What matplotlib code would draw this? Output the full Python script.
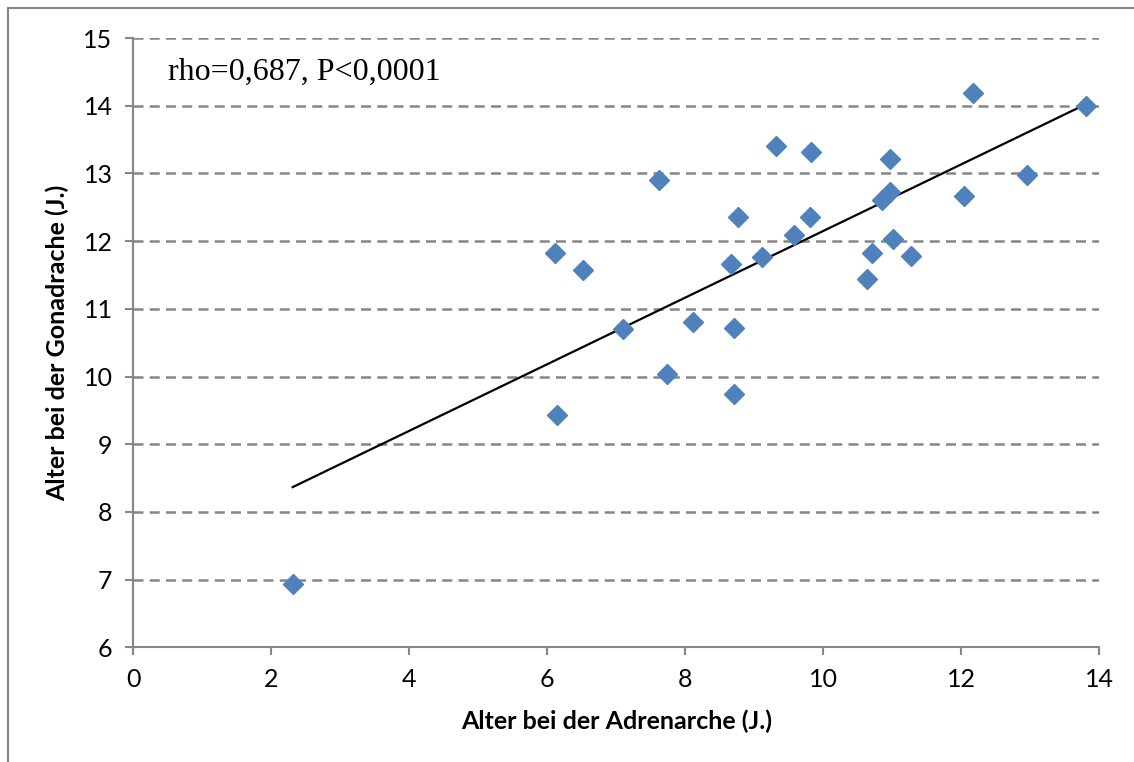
import matplotlib
matplotlib.use("Agg")
import matplotlib.pyplot as plt
from matplotlib.lines import Line2D
import numpy as np

# Alter bei der Adrenarche (x) und Gonadarche (y)
adrenarche = [2.31, 6.11, 6.14, 6.52, 7.10, 7.62, 7.73, 8.12, 8.66, 8.71,
              8.71, 8.76, 9.11, 9.32, 9.58, 9.81, 9.82, 10.64, 10.71, 10.85,
              10.97, 10.97, 11.01, 11.28, 12.04, 12.17, 12.96, 13.81]
gonadarche = [6.94, 11.82, 9.43, 11.58, 10.70, 12.91, 10.04, 10.80, 11.66, 10.71,
              9.74, 12.35, 11.77, 13.40, 12.09, 12.35, 13.32, 11.44, 11.82, 12.61,
              12.73, 13.22, 12.03, 11.78, 12.67, 14.19, 12.98, 14.00]

x_ticks = [0, 2, 4, 6, 8, 10, 12, 14]
y_ticks = [6, 7, 8, 9, 10, 11, 12, 13, 14, 15]
annotation = "rho=0,687, P<0,0001"

grey = "#868686"
blue = "#4F81BD"

fig = plt.figure(figsize=(11.34, 7.62), dpi=100)
ax = fig.add_axes([0.1176, 0.1505, 0.8515, 0.7996])

# Trendlinie (lineare Regression)
slope, intercept = np.polyfit(adrenarche, gonadarche, 1)
xs = np.array([min(adrenarche), max(adrenarche)])
ax.plot(xs, slope * xs + intercept, color="black", lw=1.6, zorder=3)

ax.plot(adrenarche, gonadarche, linestyle="none", marker="D", ms=10.5,
        color=blue, markeredgecolor=blue, zorder=4)

ax.set_xlim(0, 14)
ax.set_ylim(6, 15)
ax.set_xticks(x_ticks)
ax.set_yticks(y_ticks)

for y in y_ticks[1:]:
    ax.axhline(y, color=grey, lw=1.8, ls=(0, (4, 2.5)), zorder=1)

for s in ["top", "right"]:
    ax.spines[s].set_visible(False)
for s in ["left", "bottom"]:
    ax.spines[s].set_color(grey)
    ax.spines[s].set_linewidth(1.5)

ax.tick_params(axis="both", direction="out", length=6, width=1.5, color=grey,
               labelsize=18, pad=9)
for lab in ax.get_xticklabels() + ax.get_yticklabels():
    lab.set_family("Lato")

ax.set_xlabel("Alter bei der Adrenarche (J.)", family="Lato", fontweight="bold",
              fontsize=18, labelpad=13)
ax.set_ylabel("Alter bei der Gonadrache (J.)", family="Lato", fontweight="bold",
              fontsize=18, labelpad=10)

ax.text(0.036, 0.943, annotation, transform=ax.transAxes, family="Liberation Serif",
        fontsize=23, va="center", ha="left")

# Rahmen des Diagrammbereichs
fig.add_artist(Line2D([0.007, 0.007], [0, 0.9895], transform=fig.transFigure,
                      color=grey, lw=1.5))
fig.add_artist(Line2D([0.007, 1], [0.9895, 0.9895], transform=fig.transFigure,
                      color=grey, lw=1.5))

fig.savefig("out.png", dpi=100)
